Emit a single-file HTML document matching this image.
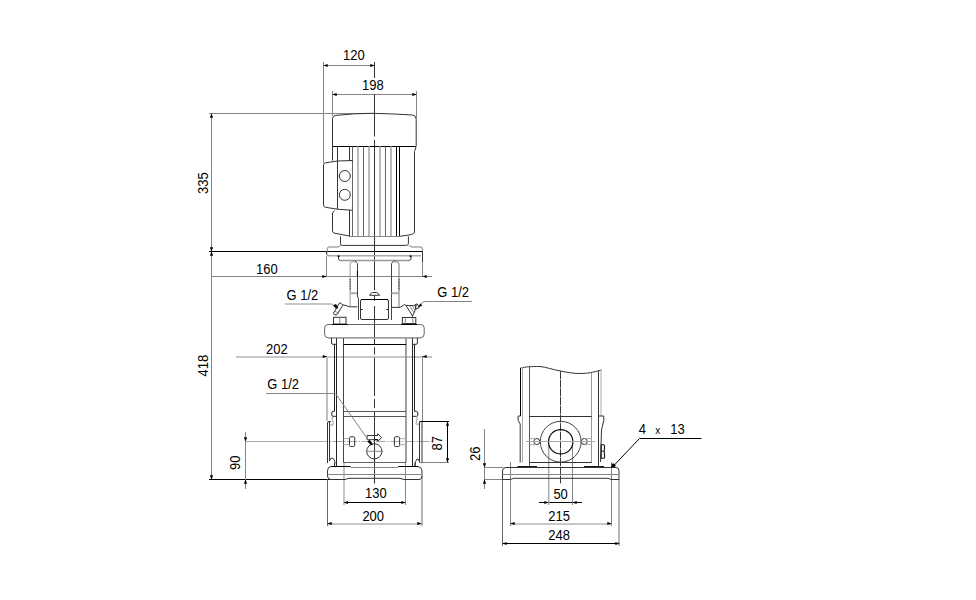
<!DOCTYPE html>
<html><head><meta charset="utf-8"><style>
html,body{margin:0;padding:0;background:#fff;width:976px;height:600px;overflow:hidden}
svg{display:block}
text{font-family:"Liberation Sans",sans-serif;font-size:13px;fill:#000}
.g{stroke:#858585;stroke-width:1;fill:none}
.l{stroke:#aaa;stroke-width:1;fill:none}
.k{stroke:#000;stroke-width:1;fill:none}
.d{stroke:#333;stroke-width:1;fill:none}
.a{fill:#000;stroke:none}
</style></head><body>
<svg width="976" height="600" viewBox="0 0 976 600">
<rect width="976" height="600" fill="#fff"/>

<!-- ===== DIMENSIONS LEFT VIEW ===== -->
<g id="dims">
<!-- 120 -->
<path class="g" d="M323.5,65.5H374.5"/>
<path class="g" d="M323.5,62V163"/>
<text transform="translate(343,60) scale(1,1.08)">120</text>
<!-- 198 -->
<path class="g" d="M332.5,94.5H416.5"/>
<path class="g" d="M332.5,91V116"/>
<path class="g" d="M416.5,91V118"/>
<text transform="translate(362,90) scale(1,1.08)">198</text>
<!-- center line top part -->
<path class="d" d="M374.5,62V78"/>
<!-- 335 / 418 -->
<path class="g" d="M211.5,113V479"/>
<path class="g" d="M209,113.5H374.5"/>
<path class="k" d="M209,251.5H422.5"/>
<path class="k" d="M209,479.5H330"/>
<text transform="translate(208,194) rotate(-90) scale(1,1.08)">335</text>
<text transform="translate(208,376.4) rotate(-90) scale(1,1.08)">418</text>
<!-- 160 -->
<path class="g" d="M211,276.5H432"/>
<path class="g" d="M326.5,256V277"/>
<path class="g" d="M422.5,256V277"/>
<text transform="translate(256,274) scale(1,1.08)">160</text>
<!-- 202 -->
<path d="M236,357H432" fill="none" stroke="#b5b5b5" stroke-width="1.7"/>
<path d="M327,358V421" fill="none" stroke="#b5b5b5" stroke-width="1.7"/>
<path class="g" d="M422.5,356V421"/>
<text transform="translate(266,354) scale(1,1.08)">202</text>
<!-- 90 -->
<path class="g" d="M245.5,432V489"/>
<text transform="translate(239.8,470) rotate(-90) scale(1,1.08)">90</text>
<path class="l" d="M245,441.5H318"/><path class="l" d="M318,441.5H433" stroke-dasharray="10,1.5,1.5,1.5"/>
<!-- 87 -->
<path class="k" d="M447.5,422V462"/>
<path class="k" d="M420,421.5H449"/>
<path class="g" d="M420,462.5H449"/>
<text transform="translate(442.4,450.5) rotate(-90) scale(1,1.08)">87</text>
<!-- 130 -->
<path class="k" d="M343.5,502.5H405.5"/>
<path d="M344,462V505" fill="none" stroke="#bbb" stroke-width="1.7"/>
<path class="g" d="M405.5,462V505"/>
<text transform="translate(365,498) scale(1,1.08)">130</text>
<!-- 200 -->
<path d="M327.5,524H421.5" fill="none" stroke="#b5b5b5" stroke-width="1.7"/>
<path d="M327.5,479V526" fill="none" stroke="#666"/>
<path d="M422,476V526" fill="none" stroke="#aaa" stroke-width="1.7"/>
<text transform="translate(362.4,521) scale(1,1.08)">200</text>
</g>

<!-- ===== DIMENSIONS RIGHT VIEW ===== -->
<g id="rdims">
<path class="g" d="M484.5,429V489"/>
<path class="g" d="M484,467.5H503"/>
<path class="g" d="M484,479.5H503"/>
<text transform="translate(480,461) rotate(-90) scale(1,1.08)">26</text>
<!-- 50 -->
<path class="k" d="M539,502.5H582"/>
<path d="M548.7,445V505" fill="none" stroke="#aaa" stroke-width="1.5"/>
<path class="g" d="M572.5,445V505"/>
<text transform="translate(553.4,499) scale(1,1.08)">50</text>
<!-- 215 -->
<path d="M510.5,524H611.5" fill="none" stroke="#b5b5b5" stroke-width="1.7"/>
<path class="g" d="M510.5,462V526"/>
<path class="g" d="M611.5,462V526"/>
<text transform="translate(548.3,521) scale(1,1.08)">215</text>
<!-- 248 -->
<path class="k" d="M502.5,543.5H619.5"/>
<path d="M502.5,479V546" fill="none" stroke="#666"/>
<path d="M619,479V546" fill="none" stroke="#aaa" stroke-width="1.7"/>
<text transform="translate(548.3,540) scale(1,1.08)">248</text>
<!-- 4 x 13 -->
<path class="k" d="M701.5,438.5H639.5L612.5,467"/>
<path class="a" d="M611,468l1-4.5l3.5,3z"/>
<text transform="translate(638.8,434) scale(1,1.08)">4</text>
<text transform="translate(655.3,434) scale(1,1.08)" style="font-size:10px">x</text>
<text transform="translate(670.2,434) scale(1,1.08)">13</text>
</g>


<!-- arrows -->
<path class="a" d="M323.2,65.5L327.7,63.9V67.1ZM374.8,65.5L370.3,63.9V67.1ZM332.2,94.5L336.7,92.9V96.1ZM416.8,94.5L412.3,92.9V96.1ZM211.5,113.2L209.9,117.7H213.1ZM211.5,251.8L209.9,247.3H213.1ZM211.5,251.2L209.9,255.7H213.1ZM211.5,479.8L209.9,475.3H213.1ZM326.8,276.5L322.3,274.9V278.1ZM422.2,276.5L426.7,274.9V278.1ZM327.3,356.5L322.8,354.9V358.1ZM422.2,356.5L426.7,354.9V358.1ZM245.5,441.8L243.9,437.3H247.1ZM245.5,479.2L243.9,483.7H247.1ZM447.5,421.2L445.9,425.7H449.1ZM447.5,462.8L445.9,458.3H449.1ZM343.5,502.5L348.0,500.9V504.1ZM405.8,502.5L401.3,500.9V504.1ZM327.2,523.5L331.7,521.9V525.1ZM421.8,523.5L417.3,521.9V525.1ZM484.5,467.8L482.9,463.3H486.1ZM484.5,479.2L482.9,483.7H486.1ZM548.8,502.5L544.3,500.9V504.1ZM572.2,502.5L576.7,500.9V504.1ZM510.2,523.5L514.7,521.9V525.1ZM611.8,523.5L607.3,521.9V525.1ZM502.2,543.5L506.7,541.9V545.1ZM619.8,543.5L615.3,541.9V545.1Z"/>
<path class="a" d="M611.5,467.8L613,463L616,465.6Z"/>
<!-- ===== PUMP LEFT VIEW ===== -->
<g id="pump">
<!-- center line -->
<path class="d" d="M374.5,94V136.5M374.5,140V290.2M374.5,295V300.7M374.5,306V345M374.5,347.2V354.7M374.5,357.7V396M374.5,399V408M374.5,411V483.5"/>
<!-- motor cover -->
<path d="M332.5,146.5V118.5Q332.5,115.7 336,115.4Q355,113.3 372,113.3Q390,113.6 412.5,115Q416,115.5 416.2,119L416.2,146.5" fill="none" stroke="#333"/>
<path class="k" d="M332.5,146.5H416"/>
<path class="d" d="M416,147L414.5,151.5V232.5Q413,234.5 409,235L400,236.3"/>
<!-- fins -->
<path class="d" d="M337.5,146.5V209"/>
<path d="M352.5,146.5V236.5M363.5,146.5V236.5M385.5,146.5V236.5" fill="none" stroke="#666"/>
<path class="k" d="M396.5,146.5V236.5M399.5,146.5V236.5"/>
<path d="M358,146.5V236.5M369,146.5V236.5M380,146.5V236.5M391,146.5V236.5" fill="none" stroke="#bbb" stroke-width="2"/>
<path class="d" d="M332.5,146.5V160.5M349.5,146.5V160.5H352.5M349.5,210V236.5"/>
<path class="g" d="M349.5,236.5H400"/>
<!-- terminal box -->
<path class="d" d="M352.5,160.5L337.5,161L325.5,162.8Q323.5,163.2 323.5,165V205Q323.5,206.8 325.5,207.3L337.5,209.2L352.5,210.3"/>
<circle class="d" cx="344.8" cy="176" r="5.5"/>
<circle class="d" cx="344.8" cy="194.8" r="5.5"/>
<!-- lower box -->
<path class="d" d="M334.5,210.5L332.5,213V231Q332.5,233 335,233.3L349.5,236"/>
<!-- bearing ring -->
<path class="d" d="M340.5,236.5V243.8Q340.8,245.4 342.5,245.4H406.5Q408.4,245.4 408.4,243.5V236.5"/>
<!-- flange -->
<path d="M341,245.6L337.5,246.9H329.5Q327.2,247 327.2,249.5V251M409,245.6L412,246.9H420.3Q422.5,247 422.5,249.5V251" fill="none" stroke="#aaa" stroke-width="1.5"/>
<path d="M326.6,251V253.5Q326.6,255.7 329,255.7H421" fill="none" stroke="#aaa" stroke-width="1.5"/>
<path class="d" d="M326.6,251V254M422.5,251V262"/>
<!-- lower plate -->
<path class="d" d="M338.5,256V258.5Q338.5,260.4 340.5,260.5M410.5,256L411.3,258Q411,260.3 409,260.5"/>
<path d="M340.5,260.5H409" fill="none" stroke="#999" stroke-width="1.6"/>
<circle cx="338.6" cy="256.2" r="1" fill="#000"/>
<circle cx="410.5" cy="256.2" r="1" fill="#000"/>
<!-- coupling guard legs -->
<path d="M350.1,306.5V264Q350.1,261.8 352.5,261.8H356" fill="none" stroke="#999"/>
<path d="M355,260.5L357.5,263.5V297Q358.5,297.5 358.5,299V320" fill="none" stroke="#444"/>
<path d="M391.5,320V299Q391,297.5 391.5,297V263.5L394,260.5" fill="none" stroke="#444"/>
<path d="M393.5,261.8H397Q399,261.8 399,264V307.2" fill="none" stroke="#777"/>
<path d="M350,293.3H357M391.5,293.3H399" fill="none" stroke="#aaa" stroke-width="2"/>
<path d="M350.1,279V290.3M399,279V290.3" fill="none" stroke="#333" stroke-dasharray="1.5,0.7"/>
<path class="k" d="M357.4,271V276"/>
<!-- dome -->
<path class="d" d="M369.6,295.3Q370.5,293 372.5,292.5H376.5Q378.5,293 379.6,295.3Z"/>
<!-- center rect -->
<rect class="d" x="360.5" y="299.5" width="28" height="20" rx="1.5"/>
<path class="k" d="M361,299.5H388"/>
<path class="k" d="M361,309.5h1.5M386.5,309.5h1.5"/>
<!-- left vent -->
<path d="M285,304H332.3" fill="none" stroke="#b5b5b5" stroke-width="1.7"/><path class="g" d="M332.3,304L335.5,307.8"/>
<path class="a" d="M333.2,305.3L336,304L338.3,307.8L336.5,309.3Z"/>
<path class="d" d="M339.6,302.8Q341.5,303 342.8,305.3L336.8,314.8Q335,315.5 333.2,313.6Z"/>
<path class="g" d="M334.6,311.2L338.6,313.2"/>
<path class="d" d="M342.6,304.8Q346,305.3 349.5,306.8H357.4"/>
<!-- right vent -->
<path class="g" d="M472,301.5H424L420,305"/>
<path class="a" d="M417.5,307.8L420.3,303.6L422.4,305.4Z"/>
<path class="d" d="M391.5,307.4H400.2L404.5,304.5L406,305.5H413.5M406,305.5L412.5,316L415.2,310L416.2,304.8L413.5,305.5"/>
<path class="g" d="M409.5,305.6L414,313M412.2,305.6L415.2,310.5"/>
<path class="d" d="M414.8,305.2L417.2,303.8L419.2,307.6L416.4,309.2Z"/>
<path class="d" d="M412.5,316V317.5"/>
<!-- nuts -->
<rect class="d" x="333.5" y="317.3" width="12.5" height="6.7"/>
<path class="g" d="M339.8,317.5V324"/>
<rect class="d" x="402.3" y="317.5" width="13.5" height="6"/>
<path class="g" d="M405.3,317.5V323.5M412.8,317.5V323.5"/>
<!-- pump head -->
<path d="M328,324.5H420.5Q424.2,324.5 424.2,328V334Q424.2,337.7 420.5,337.7H328Q324.6,337.7 324.6,334V328Q324.6,324.5 328,324.5Z" fill="none" stroke="#666"/>
<path d="M328,338H421" fill="none" stroke="#aaa" stroke-width="1.5"/>
<path class="k" d="M332,324.5H348M401,324.5H417"/>
<!-- tie rod nuts under head -->
<path class="d" d="M331.5,338V343Q331.5,344.3 333,344.3H336.5V338"/>
<path class="d" d="M412.5,338V344.3H416Q417.4,344.3 417.4,343V338"/>
<!-- tie rods -->
<path d="M334.5,344V411.3M336.5,344V466M412.5,344V466M414.5,344V411.3" fill="none" stroke="#222"/>
<path d="M334.5,411.3H333Q331.8,411.5 331.8,413V415.5Q332,416.3 333,416.3H336.5M414.5,411.3H416.3Q417.8,411.5 417.8,413V415.5Q417.6,416.3 416.5,416.3H412.5" fill="none" stroke="#222"/>
<path d="M332.5,416.5Q331.8,420 333,421.5Q333.8,423.5 332.5,425.5Q331,426 330,423.5M417,416.5Q417.5,420 416.3,421.8Q415.6,424 417.5,425Q419,424.5 419.4,422.5" fill="none" stroke="#999"/>
<!-- sleeve -->
<path d="M343.5,338V462.5" fill="none" stroke="#444"/>
<path d="M406,338V462.5" fill="none" stroke="#888" stroke-width="1.6"/>
<path class="k" d="M343.5,344.5H406"/>
<path d="M343.5,411.5H406M343.5,416.5H406" fill="none" stroke="#555"/>
<path d="M343.5,462.5H406" fill="none" stroke="#666"/>
<!-- port flanges -->
<path class="d" d="M327.5,463V423Q327.5,421.5 329,421.5H331M329.5,421.5V461"/>
<path class="d" d="M329.5,461Q330,458 332,458Q334.5,458.5 335,462L334.5,466"/>
<path class="d" d="M419.5,422V462.5M422,421.5V462.5"/>
<path class="k" d="M419.5,421.5H426"/>
<path class="d" d="M415,466Q415,461 417,459Q419,458.5 419.5,462"/>
<!-- slots -->
<rect class="d" x="349.5" y="436.8" width="5.2" height="9.7" rx="1"/>
<rect class="d" x="394.4" y="436.8" width="5.2" height="9.7" rx="1"/>
<path class="l" d="M343.5,438.6H349.5M343.5,444.6H349.5M399.6,438.6H406M399.6,444.6H406"/>
<!-- inlet -->
<circle class="d" cx="374.3" cy="451.3" r="7.6"/>
<path class="g" d="M365.7,451.3H383.3"/>
<path class="d" d="M367,435.5H377.7V433.7L381.7,437.6L377.7,441.3V439.7H367Z"/>
<path class="k" d="M374.5,439.7H378"/>
<!-- lower leader -->
<path class="g" d="M266,393.5H335.5L369,441"/>
<path class="a" d="M367.5,441.5l2.2,-1.6l3,4.2l-1.5,1.4z"/>
<!-- base plate -->
<path class="d" d="M331,466.5Q327.5,467 327.5,470.5V476Q327.5,479.5 331,479.5H345L349,478.3H400L404,479.5H419Q422,479.5 422,476V470.5Q422,467.5 418,466.5"/>
<path class="k" d="M331,466.5H350.7M398,466.5H418"/>
<path class="g" d="M350.7,467.5H398M327.5,474.5H422"/>
<path class="d" d="M334.5,466V462.5M415,466V462.5"/>
</g>


<text transform="translate(286.5,300) scale(1,1.08)">G 1/2</text>
<text transform="translate(437.2,297) scale(1,1.08)">G 1/2</text>
<text transform="translate(267.2,389) scale(1,1.08)">G 1/2</text>
<!-- ===== PUMP RIGHT VIEW ===== -->
<g id="rview">
<path class="d" d="M520.5,368C526,366.8 530,366.5 540,366.5C546,367 552,369.5 560.5,371C568,372.5 573,373.5 580,373.5C588,373.5 592,372.5 601.5,370"/>
<path class="k" d="M520.5,368V416"/>
<path class="d" d="M520.5,416H518.1V420.3L520.2,424V462.5"/>
<path class="l" d="M522.5,367V462.5"/>
<path d="M529.5,366.5V466" fill="none" stroke="#555"/>
<path d="M591.5,372.7V462.5" fill="none" stroke="#999"/>
<path d="M598.5,371V466" fill="none" stroke="#333"/>
<path class="l" d="M601,370V416"/>
<path class="d" d="M598.5,416H603.75V420.5L601.5,430L600.5,462"/>
<path d="M560.5,371V484" fill="none" stroke="#3a3a3a" stroke-dasharray="8,0.7"/>
<path class="d" d="M529.5,416.5H591.75"/>
<path class="d" d="M529.5,462.5H591.75"/>
<circle cx="560.7" cy="441.7" r="20.4" fill="none" stroke="#444" stroke-width="1"/>
<circle cx="560.7" cy="441.7" r="12.2" fill="none" stroke="#111" stroke-width="1.25"/>
<circle class="d" cx="536.8" cy="441.5" r="3"/>
<circle class="d" cx="584.3" cy="441.5" r="3"/>
<path class="l" d="M529.65,438.6H536M529.65,444.6H536M585,438.6H591.75M585,444.6H591.75"/>
<path class="l" d="M526,441.5H595"/>
<path class="k" d="M517.5,466.6H537M584,466.6H604" stroke-width="1.6"/>
<path d="M601.2,444.8H603.6Q604.8,445 604.6,447L604.2,451L604.6,456Q604.8,458.2 603.4,458.2H601.2Z" fill="none" stroke="#111" stroke-width="1.1"/>
<path d="M601.5,451.2H604" fill="none" stroke="#333"/>
<path class="d" d="M502.5,479.5V471Q502.5,467.5 506,467.5H616Q619,467.5 619,471V479.5H611L608,478.3H513.5L510.5,479.5Z"/>
<path class="g" d="M502.5,474.5H619"/>
</g>

</svg>
</body></html>
